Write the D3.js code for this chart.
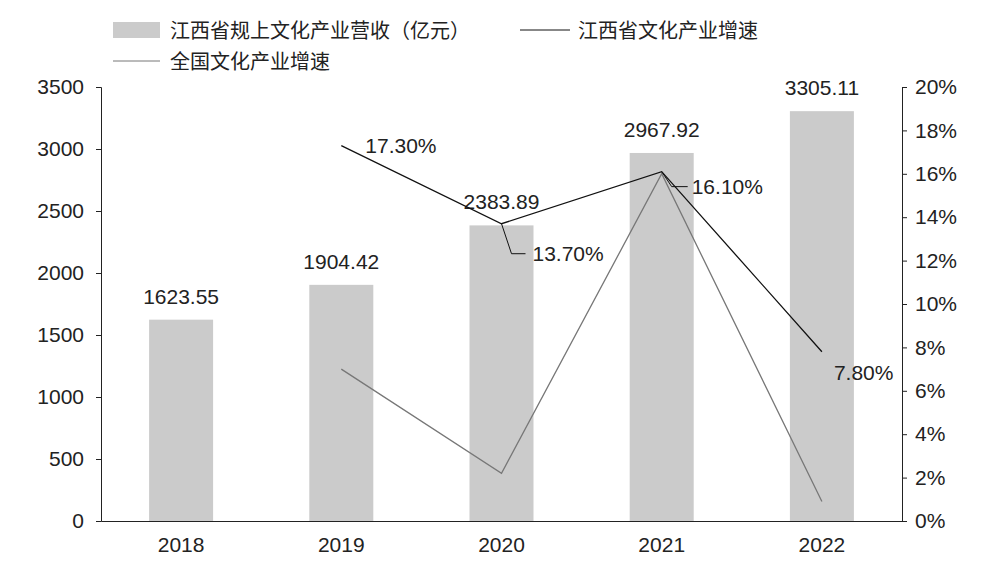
<!DOCTYPE html>
<html><head><meta charset="utf-8">
<script src="https://cdn.jsdelivr.net/npm/d3@7"></script>
<style>body{margin:0;background:#fff}text{font-family:Arial,"Liberation Sans","Noto Sans CJK SC",sans-serif;fill:#222}</style>
</head><body><div id="chart"></div>
<script>
const years = ["2018", "2019", "2020", "2021", "2022"];
const revenue = [1623.55, 1904.42, 2383.89, 2967.92, 3305.11];
const jxGrowth = [null, 17.3, 13.7, 16.1, 7.8];
const cnGrowth = [null, 7.0, 2.2, 16.0, 0.9];
const leftTicks = [0, 500, 1000, 1500, 2000, 2500, 3000, 3500];
const rightTicks = [0, 2, 4, 6, 8, 10, 12, 14, 16, 18, 20];

const svg = d3.select("#chart").append("svg").attr("width", 997).attr("height", 573);
const x = d3.scaleBand().domain(years).range([101, 902]);
const y = d3.scaleLinear().domain([0, 3500]).range([521, 87]);
const y2 = d3.scaleLinear().domain([0, 20]).range([521, 87]);

// bars
svg.selectAll("rect.bar").data(revenue).join("rect")
  .attr("x", (d, i) => x(years[i]) + x.bandwidth() / 2 - 32)
  .attr("y", d => y(d)).attr("width", 64).attr("height", d => 521 - y(d))
  .attr("fill", "#cbcbcb");
svg.selectAll("text.bv").data(revenue).join("text")
  .attr("x", (d, i) => x(years[i]) + x.bandwidth() / 2).attr("y", d => y(d) - 16)
  .attr("text-anchor", "middle").attr("font-size", 21).text(d => d.toFixed(2));

// axes
const fmt = g => { g.selectAll("text").attr("font-size", 21).attr("fill", "#222"); g.selectAll("line,path").attr("stroke", "#222"); };
svg.append("g").attr("transform", "translate(101,0)")
  .call(d3.axisLeft(y).tickValues(leftTicks).tickSize(5).tickPadding(12).tickFormat(d3.format("d"))).call(fmt);
svg.append("g").attr("transform", "translate(902,0)")
  .call(d3.axisRight(y2).tickValues(rightTicks).tickSize(5).tickPadding(8).tickFormat(d => d + "%")).call(fmt);
svg.append("g").attr("transform", "translate(0,521)")
  .call(d3.axisBottom(x).tickSize(0).tickPadding(16)).call(fmt);

// lines
const cx = i => x(years[i]) + x.bandwidth() / 2;
const line = d3.line().defined(d => d != null).x((d, i) => cx(i)).y(d => y2(d));
svg.append("path").attr("d", line(cnGrowth)).attr("fill", "none").attr("stroke", "#777").attr("stroke-width", 1.3);
svg.append("path").attr("d", line(jxGrowth)).attr("fill", "none").attr("stroke", "#111").attr("stroke-width", 1.3);

// growth labels with leaders
const lbl = (tx, ty, s) => svg.append("text").attr("x", tx).attr("y", ty).attr("font-size", 21).text(s);
lbl(cx(1) + 24, y2(17.3) + 7, "17.30%");
svg.append("polyline").attr("points", `${cx(2)},${y2(13.7)} ${cx(2) + 10},${y2(13.7) + 30} ${cx(2) + 24},${y2(13.7) + 30}`).attr("fill", "none").attr("stroke", "#111");
lbl(cx(2) + 31, y2(13.7) + 37, "13.70%");
svg.append("polyline").attr("points", `${cx(3)},${y2(16.1)} ${cx(3) + 10},${y2(16.1) + 15} ${cx(3) + 26},${y2(16.1) + 15}`).attr("fill", "none").attr("stroke", "#111");
lbl(cx(3) + 30, y2(16.1) + 22, "16.10%");
lbl(cx(4) + 12, y2(7.8) + 28, "7.80%");

// legend
svg.append("rect").attr("x", 113).attr("y", 22).attr("width", 47).attr("height", 16).attr("fill", "#cbcbcb");
svg.append("text").attr("x", 170).attr("y", 38).attr("font-size", 20).text("江西省规上文化产业营收（亿元）");
svg.append("line").attr("x1", 520).attr("x2", 570).attr("y1", 30).attr("y2", 30).attr("stroke", "#111");
svg.append("text").attr("x", 578).attr("y", 38).attr("font-size", 20).text("江西省文化产业增速");
svg.append("line").attr("x1", 113).attr("x2", 160).attr("y1", 61).attr("y2", 61).attr("stroke", "#777");
svg.append("text").attr("x", 170).attr("y", 69).attr("font-size", 20).text("全国文化产业增速");
</script></body></html>
